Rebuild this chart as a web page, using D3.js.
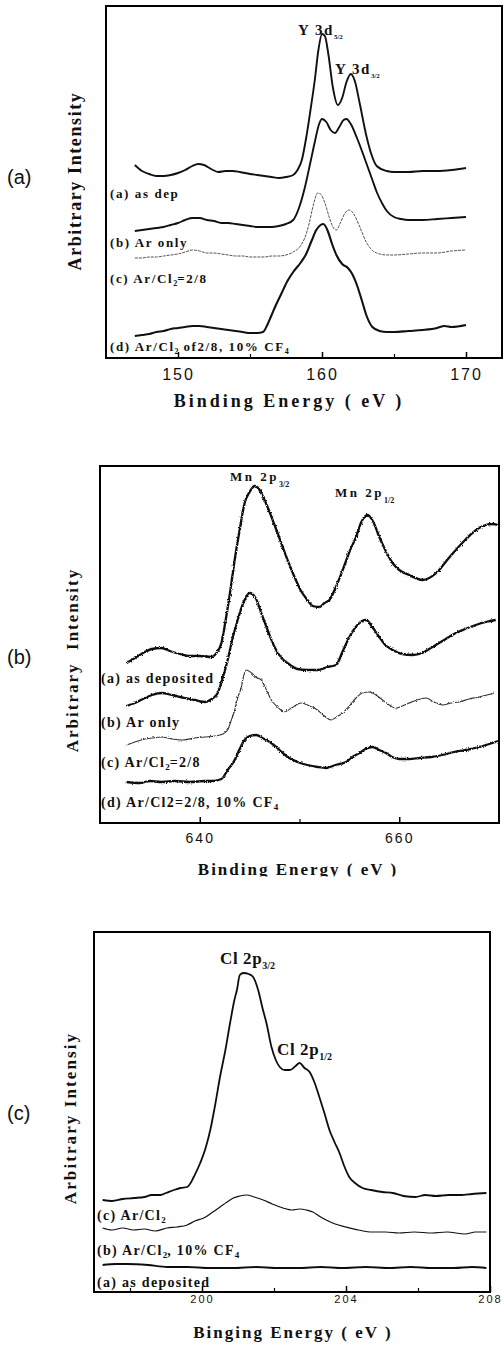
<!DOCTYPE html>
<html>
<head>
<meta charset="utf-8">
<script src="https://cdnjs.cloudflare.com/ajax/libs/d3/7.8.5/d3.min.js"></script>
<style>
html, body { margin: 0; padding: 0; background: #fff; }
svg { display: block; }
text { white-space: pre; }
</style>
</head>
<body>
<script>
//------------------------------------------------------------------------------
//
// Data  (binding energy in eV, arbitrary intensity)
//
//------------------------------------------------------------------------------

// Panel (a): Y 3d
var yTicks = [150, 160, 170];
var yMinorTicks = [155, 165];
var yLabels = ["(a) as dep", "(b) Ar only", "(c) Ar/Cl_{2}=2/8", "(d) Ar/Cl_{2} of2/8, 10% CF_{4}"];
var yPeaks = ["Y 3d_{5/2}", "Y 3d_{3/2}"];

var yAsDep = [[147,193],[147.5,187],[148,184],[148.5,182],[149,182],[149.5,183],[150,185],[150.5,188],[151,192],[151.4,194],[151.8,193],[152.3,189],[152.8,186],[153.3,187],[153.8,187],[154.3,186],[155,184],[155.5,183],[156,182],[156.5,181],[157,180],[157.5,181],[158,183],[158.3,188],[158.6,198],[158.9,220],[159.2,248],[159.5,278],[159.75,308],[160,324],[160.2,322],[160.45,303],[160.75,271],[161.1,253],[161.4,260],[161.7,276],[162,284],[162.3,276],[162.6,256],[163.1,221],[163.4,205],[163.8,192],[164.5,187],[165,186],[166,186],[167,187],[168,187],[169,188],[170,190]];
var yArOnly = [[147,127],[147.5,128],[148,129],[148.5,130],[149,131],[149.5,133],[150,135],[150.5,138],[151,140],[151.5,140],[152,138],[152.5,137],[153,135],[153.5,135],[154,134],[154.5,133],[155,132],[155.5,131],[156,131],[156.5,131],[157,132],[157.5,134],[158,138],[158.4,150],[158.8,170],[159.2,196],[159.5,216],[159.8,234],[160,239],[160.3,236],[160.6,228],[160.9,225],[161.2,231],[161.5,238],[161.7,239],[162,234],[162.4,221],[162.8,206],[163.1,194],[163.5,178],[163.8,166],[164.2,154],[164.5,147],[165,141],[165.5,139],[166,138],[167,138],[168,139],[169,140],[170,141]];
var yArCl = [[147,100],[147.5,100],[148,101],[148.5,101],[149,102],[149.5,103],[150,104],[150.5,106],[151,108],[151.5,107],[152,105],[152.5,105],[153,104],[153.5,103],[154,102],[154.5,102],[155,101],[155.5,101],[156,101],[156.5,102],[157,102],[157.5,103],[158,106],[158.5,112],[158.8,120],[159.1,134],[159.4,153],[159.7,165],[159.9,164],[160.2,155],[160.5,141],[160.8,130],[161,128],[161.3,136],[161.6,145],[161.9,148],[162.2,144],[162.6,132],[163,118],[163.4,109],[163.8,105],[164.5,103],[165,103],[166,104],[167,105],[168,105],[169,107],[170,108]];
var yArClCF4 = [[147,22],[147.5,23],[148,24],[148.5,26],[149,27],[149.5,29],[150,30],[150.5,31],[151,32],[151.5,32],[152,31],[152.5,30],[153,29],[153.5,28],[154,27],[154.5,26],[155,25],[155.5,25],[155.9,26],[156.2,33],[156.5,43],[156.8,53],[157.2,65],[157.6,77],[158,86],[158.5,95],[158.9,104],[159.3,118],[159.6,128],[159.9,133],[160.1,134],[160.4,127],[160.7,114],[161,103],[161.4,94],[161.8,90],[162.1,84],[162.4,74],[162.8,56],[163.1,42],[163.5,31],[164,27],[164.5,26],[165,26],[166,27],[167,28],[168,30],[168.5,32],[169,31],[170,33]];

// Panel (b): Mn 2p
var mnTicks = [640, 660];
var mnMinorTicks = [650];
var mnLabels = ["(a) as deposited", "(b) Ar only", "(c) Ar/Cl_{2}=2/8", "(d) Ar/Cl2=2/8, 10% CF_{4}"];
var mnPeaks = ["Mn 2p_{3/2}", "Mn 2p_{1/2}"];

var mnAsDep = [[632.67,160],[633.5,165],[634.5,171],[635.2,174],[636.17,175],[637,172],[638,169],[639,167],[640,167],[641.17,166],[641.6,169],[642.17,180],[642.6,203],[643,228],[643.5,263],[644,293],[644.5,320],[645,331],[645.5,337],[646,333],[646.4,325],[646.8,316],[647.5,298],[648.17,280],[648.8,263],[649.5,246],[650.1,233],[650.8,223],[651.33,217],[652,216],[652.5,220],[653,223],[653.6,235],[654.33,253],[655,271],[655.67,286],[656.2,301],[656.83,308],[657.4,301],[658,286],[658.6,273],[659.33,260],[660,253],[661,248],[661.6,245],[662.33,243],[663,245],[664,253],[664.8,263],[665.67,273],[666.5,282],[667.33,290],[668,295],[668.67,298],[669.3,299],[669.9,298]];
var mnArOnly = [[632.67,117],[633.5,120],[634.5,125],[635.2,128],[636.17,130],[637.2,128],[638.5,125],[639.5,123],[640.5,121],[641.2,124],[641.8,130],[642.3,145],[642.8,163],[643.3,185],[643.8,203],[644.4,221],[645,230],[645.6,225],[646.17,210],[646.8,193],[647.5,176],[648.1,166],[648.8,160],[649.8,154],[650.8,153],[651.8,153],[652.8,156],[653.67,158],[654.3,171],[655,186],[655.8,198],[656.67,203],[657.3,196],[658,186],[658.6,178],[659.33,173],[660.3,169],[661.33,168],[662.3,170],[663.33,176],[664.5,183],[665.67,190],[666.6,194],[667.67,198],[668.7,201],[669.67,203]];
var mnArCl = [[632.67,78],[633.5,81],[634.5,84],[635.2,85],[636.17,86],[637.2,84],[638.3,83],[639.5,85],[640.5,86],[641.5,87],[642.3,89],[642.8,93],[643.1,101],[643.5,113],[643.8,125],[644.17,136],[644.4,147],[644.67,153],[645.2,150],[645.6,146],[646.17,143],[646.6,135],[647.17,123],[647.8,116],[648.5,111],[649.2,115],[650.17,120],[651,117],[651.8,113],[652.5,107],[653.17,103],[653.7,106],[654.33,110],[655,117],[655.67,125],[656.3,130],[657,131],[657.67,128],[658.33,123],[659,118],[659.67,115],[660.3,117],[661,120],[661.8,123],[662.67,125],[663.5,121],[664.33,118],[665.2,120],[666,121],[667,124],[668,126],[668.8,128],[669.5,130]];
var mnArClCF4 = [[632.67,41],[634,40],[635,42],[636.17,41],[637.5,42],[639,41],[640.5,42],[641.3,42],[642.17,44],[642.8,53],[643.5,63],[644,74],[644.5,83],[645,87],[645.67,88],[646.3,85],[647.17,80],[648,73],[648.8,66],[649.8,61],[650.8,58],[651.8,56],[652.67,55],[653.6,58],[654.67,61],[655.3,66],[656,70],[656.6,74],[657.33,76],[658,73],[658.67,70],[659.3,66],[660,64],[661,64],[662,65],[663.2,66],[664.33,68],[665.5,71],[666.67,73],[668,76],[669.33,80],[669.9,82]];

// Panel (c): Cl 2p
var clTicks = [200, 204, 208];
var clMinorTicks = [198, 202, 206];
var clLabels = ["(c) Ar/Cl_{2}", "(b) Ar/Cl_{2}, 10% CF_{4}", "(a) as deposited"];
var clPeaks = ["Cl 2p_{3/2}", "Cl 2p_{1/2}"];

var clArCl = [[197.24,92],[197.5,91],[197.8,93],[198.1,94],[198.4,95],[198.6,97],[198.85,97],[199,99],[199.22,102],[199.4,104],[199.59,105],[199.7,110],[199.77,115],[199.95,129],[200.1,144],[200.23,162],[200.37,188],[200.5,215],[200.65,242],[200.78,269],[200.9,292],[200.97,302],[201.05,317],[201.15,319],[201.3,318],[201.42,315],[201.56,302],[201.68,284],[201.79,269],[201.93,245],[202.05,232],[202.16,225],[202.3,222],[202.44,222],[202.6,226],[202.71,229],[202.85,224],[202.99,220],[203.13,209],[203.26,195],[203.4,179],[203.54,162],[203.68,150],[203.82,139],[203.95,126],[204.09,115],[204.25,109],[204.46,104],[204.7,102],[205.01,100],[205.3,99],[205.6,96],[205.93,95],[206.2,97],[206.5,96],[206.85,97],[207.2,97],[207.5,98],[207.9,99]];
var clArClCF4 = [[197.24,64],[197.5,62],[197.8,64],[198.1,62],[198.4,63],[198.7,61],[199.03,64],[199.3,65],[199.59,67],[199.8,71],[200.05,74],[200.3,80],[200.5,85],[200.7,90],[200.87,94],[201.05,96],[201.24,97],[201.45,95],[201.7,92],[201.95,88],[202.25,84],[202.5,82],[202.71,83],[202.9,82],[203.08,80],[203.25,76],[203.45,72],[203.7,68],[204,65],[204.35,62],[204.73,60],[205.1,60],[205.47,59],[205.9,60],[206.39,59],[206.8,60],[207.31,58],[207.6,60],[207.9,60]];
var clAsDep = [[197.24,27],[197.6,28],[197.93,28],[198.5,27],[199.03,25],[199.6,25],[200.2,24],[200.87,24],[201.5,25],[202.1,24],[202.71,24],[203.3,25],[203.9,24],[204.55,25],[205.2,24],[205.8,25],[206.39,24],[207,24],[207.5,25],[207.9,24]];

//------------------------------------------------------------------------------
//
// Layout
//
//------------------------------------------------------------------------------

var SERIF = "'Liberation Serif', 'Times New Roman', serif";
var SANS = "'Liberation Sans', Arial, sans-serif";
var INK = "#111";

var panels = [
  {
    letter: "(a)", letterY: 184,
    frame: {x0: 106, x1: 502, y0: 6, y1: 358},
    xDomain: [145, 172.5], yDomain: [0, 352],
    ticks: yTicks, minor: yMinorTicks,
    tickFont: 16, tickPad: 10.5, tickSpacing: 2,
    xTitle: "Binding Energy ( eV )", xTitleX: 289, xTitleY: 407, titleFont: 18, titleSpacing: 3,
    yTitle: "Arbitrary Intensity", yTitleX: 81, yTitleY: 181, yTitleSpacing: 1.6,
    series: [
      {values: yAsDep, width: 1.9, color: INK},
      {values: yArOnly, width: 1.9, color: INK},
      {values: yArCl, width: 1, color: "#555", dash: "3,1"},
      {values: yArClCF4, width: 2.1, color: INK}
    ],
    rough: 0,
    labels: yLabels, labelX: 110, labelY: [198, 247, 283, 351], labelFont: 13, labelSpacing: 1.6, labelSub: 8,
    peaks: yPeaks, peakPos: [[298, 35], [335, 74]], peakFont: 15, peakSpacing: 1.5, peakSub: 7, peakDy: 4
  },
  {
    letter: "(b)", letterY: 664,
    frame: {x0: 100, x1: 499, y0: 466, y1: 823},
    xDomain: [630, 670], yDomain: [0, 357],
    ticks: mnTicks, minor: mnMinorTicks,
    tickFont: 14, tickPad: 10, tickSpacing: 2,
    xTitle: "Binding Energy ( eV )", xTitleX: 298, xTitleY: 875, titleFont: 17, titleSpacing: 2,
    clipBelow: 876.5,
    yTitle: "Arbitrary  Intensity", yTitleX: 78, yTitleY: 660, yTitleSpacing: 2,
    series: [
      {values: mnAsDep, width: 2.3, color: INK},
      {values: mnArOnly, width: 2.3, color: INK},
      {values: mnArCl, width: 1.1, color: "#333"},
      {values: mnArClCF4, width: 2.3, color: INK}
    ],
    rough: 3,
    labels: mnLabels, labelX: 101, labelY: [683, 727, 767, 807], labelFont: 14, labelSpacing: 1.3, labelSub: 9,
    peaks: mnPeaks, peakPos: [[230, 481], [335, 497]], peakFont: 13, peakSpacing: 2.5, peakSub: 8, peakDy: 6
  },
  {
    letter: "(c)", letterY: 1120,
    frame: {x0: 94, x1: 490, y0: 932, y1: 1292},
    xDomain: [197, 208], yDomain: [0, 360],
    ticks: clTicks, minor: clMinorTicks,
    tickFont: 11, tickPad: 3, tickSpacing: 2,
    xTitle: "Binging Energy ( eV )", xTitleX: 293, xTitleY: 1338, titleFont: 17, titleSpacing: 2,
    yTitle: "Arbitrary Intensiy", yTitleX: 76, yTitleY: 1118, yTitleSpacing: 2.1,
    series: [
      {values: clArCl, width: 1.8, color: INK},
      {values: clArClCF4, width: 1.2, color: INK},
      {values: clAsDep, width: 1.8, color: INK}
    ],
    rough: 1.5,
    labels: clLabels, labelX: 97, labelY: [1220, 1255, 1287], labelFont: 14, labelSpacing: 1.3, labelSub: 9,
    peaks: clPeaks, peakPos: [[220, 964], [277, 1055]], peakFont: 17, peakSpacing: 0.6, peakSub: 10, peakDy: 5
  }
];

//------------------------------------------------------------------------------
//
// Helpers
//
//------------------------------------------------------------------------------

// Writes "Ar/Cl_{2}" style strings as tspans with lowered, smaller subscripts.
function richText(text, str, subSize, subDy) {
  var parts = str.split(/(_\{[^}]*\})/);
  var shift = 0;
  parts.forEach(function(p) {
    if (!p) return;
    var m = p.match(/^_\{(.*)\}$/);
    var target = m ? subDy : 0;
    var t = text.append("tspan").attr("dy", target - shift).text(m ? m[1] : p);
    if (m) t.attr("font-size", subSize).style("letter-spacing", "0px");
    shift = target;
  });
}

//------------------------------------------------------------------------------
//
// Drawing
//
//------------------------------------------------------------------------------

var svg = d3.select("body").append("svg")
  .attr("width", 504)
  .attr("height", 1345);

var defs = svg.append("defs");

panels.forEach(function(p, i) {
  var x = d3.scaleLinear().domain(p.xDomain).range([p.frame.x0, p.frame.x1]);
  var y = d3.scaleLinear().domain(p.yDomain).range([p.frame.y1, p.frame.y0]);
  var g = svg.append("g").attr("class", "panel");

  // Noisy trace look: a displacement filter roughens the drawn line.
  var filterId = null;
  if (p.rough > 0) {
    filterId = "rough" + i;
    var f = defs.append("filter")
      .attr("id", filterId)
      .attr("filterUnits", "userSpaceOnUse")
      .attr("x", 0).attr("y", 0).attr("width", 504).attr("height", 1345);
    f.append("feTurbulence")
      .attr("type", "fractalNoise")
      .attr("baseFrequency", 0.8)
      .attr("numOctaves", 1)
      .attr("seed", 4 + i)
      .attr("result", "noise");
    f.append("feDisplacementMap")
      .attr("in", "SourceGraphic")
      .attr("in2", "noise")
      .attr("scale", p.rough)
      .attr("xChannelSelector", "R")
      .attr("yChannelSelector", "G");
  }

  // Traces.
  var line = d3.line()
    .x(function(d) { return x(d[0]); })
    .y(function(d) { return y(d[1]); })
    .curve(d3.curveMonotoneX);

  var traces = g.append("g");
  if (filterId) traces.attr("filter", "url(#" + filterId + ")");
  traces.selectAll("path")
    .data(p.series)
    .enter().append("path")
    .attr("d", function(s) { return line(s.values); })
    .attr("fill", "none")
    .attr("stroke", function(s) { return s.color; })
    .attr("stroke-width", function(s) { return s.width; })
    .attr("stroke-dasharray", function(s) { return s.dash || null; })
    .attr("stroke-linejoin", "round");

  // Frame.
  g.append("rect")
    .attr("x", p.frame.x0)
    .attr("y", p.frame.y0)
    .attr("width", p.frame.x1 - p.frame.x0)
    .attr("height", p.frame.y1 - p.frame.y0)
    .attr("fill", "none")
    .attr("stroke", "#000")
    .attr("stroke-width", 2);

  // Bottom axis, ticks pointing into the plot.
  var axis = d3.axisBottom(x)
    .tickValues(p.ticks)
    .tickFormat(d3.format("d"))
    .tickSizeInner(-6)
    .tickSizeOuter(0)
    .tickPadding(p.tickPad);
  var ax = g.append("g")
    .attr("transform", "translate(0," + p.frame.y1 + ")")
    .call(axis);
  ax.select(".domain").remove();
  ax.selectAll("line").attr("stroke", "#000").attr("stroke-width", 1.5);
  ax.selectAll("text")
    .attr("fill", INK)
    .style("font-family", SANS)
    .style("font-size", p.tickFont + "px")
    .style("letter-spacing", p.tickSpacing + "px");

  var minorAxis = d3.axisBottom(x)
    .tickValues(p.minor)
    .tickFormat("")
    .tickSizeInner(-4)
    .tickSizeOuter(0);
  var mx = g.append("g")
    .attr("transform", "translate(0," + p.frame.y1 + ")")
    .call(minorAxis);
  mx.select(".domain").remove();
  mx.selectAll("line").attr("stroke", "#000").attr("stroke-width", 1.2);

  // Axis titles.
  var xt = g.append("text")
    .attr("x", p.xTitleX)
    .attr("y", p.xTitleY)
    .attr("text-anchor", "middle")
    .attr("fill", INK)
    .style("font-family", SERIF)
    .style("font-weight", "bold")
    .style("font-size", p.titleFont + "px")
    .style("letter-spacing", p.titleSpacing + "px")
    .text(p.xTitle);
  if (p.clipBelow) {
    defs.append("clipPath").attr("id", "cut" + i)
      .append("rect")
      .attr("x", 0).attr("y", p.frame.y1)
      .attr("width", 504).attr("height", p.clipBelow - p.frame.y1);
    xt.attr("clip-path", "url(#cut" + i + ")");
  }

  g.append("text")
    .attr("transform", "translate(" + p.yTitleX + "," + p.yTitleY + ") rotate(-90)")
    .attr("text-anchor", "middle")
    .attr("fill", INK)
    .style("font-family", SERIF)
    .style("font-weight", "bold")
    .style("font-size", p.titleFont + "px")
    .style("letter-spacing", p.yTitleSpacing + "px")
    .text(p.yTitle);

  // Panel letter.
  g.append("text")
    .attr("x", 7)
    .attr("y", p.letterY)
    .attr("fill", INK)
    .style("font-family", SANS)
    .style("font-size", "20px")
    .text(p.letter);

  // Series labels.
  p.labels.forEach(function(lbl, k) {
    var t = g.append("text")
      .attr("x", p.labelX)
      .attr("y", p.labelY[k])
      .attr("fill", INK)
      .style("font-family", SERIF)
      .style("font-weight", "bold")
      .style("font-size", p.labelFont + "px")
      .style("letter-spacing", p.labelSpacing + "px");
    richText(t, lbl, p.labelSub, 3);
  });

  // Peak labels.
  p.peaks.forEach(function(lbl, k) {
    var t = g.append("text")
      .attr("x", p.peakPos[k][0])
      .attr("y", p.peakPos[k][1])
      .attr("fill", INK)
      .style("font-family", SERIF)
      .style("font-weight", "bold")
      .style("font-size", p.peakFont + "px")
      .style("letter-spacing", p.peakSpacing + "px");
    richText(t, lbl, p.peakSub, p.peakDy);
  });
});
</script>
</body>
</html>
